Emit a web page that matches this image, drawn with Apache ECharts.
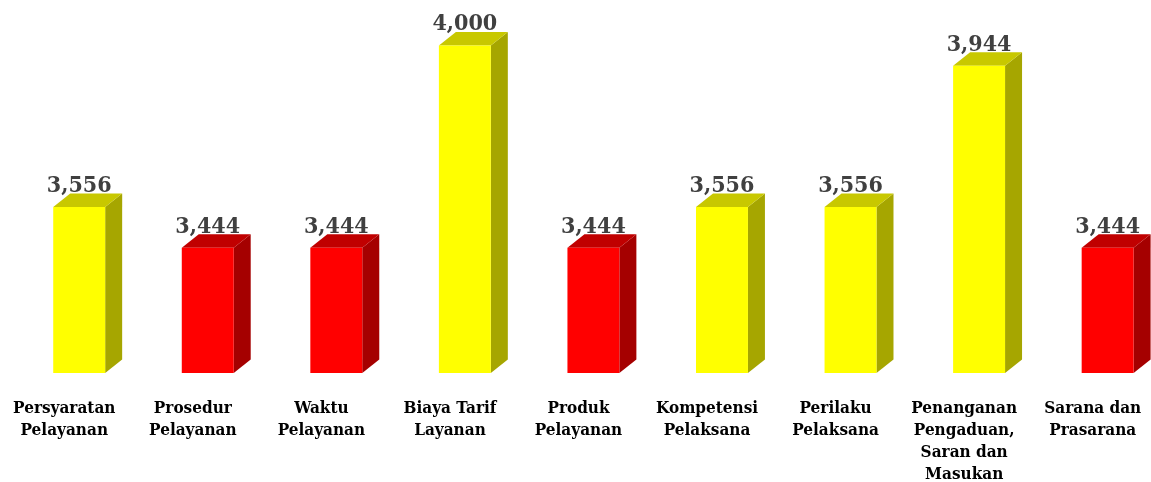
<!DOCTYPE html>
<html>
<head>
<meta charset="utf-8">
<script src="https://cdn.jsdelivr.net/npm/echarts@6/dist/echarts.min.js"></script>
<style>
  html, body { margin: 0; padding: 0; background: #fff; }
  #chart { width: 1151px; height: 482px; }
</style>
</head>
<body>
<div id="chart"></div>
<script>
var categories = [
  "Persyaratan\nPelayanan",
  "Prosedur\nPelayanan",
  "Waktu\nPelayanan",
  "Biaya Tarif\nLayanan",
  "Produk\nPelayanan",
  "Kompetensi\nPelaksana",
  "Perilaku\nPelaksana",
  "Penanganan\nPengaduan,\nSaran dan\nMasukan",
  "Sarana dan\nPrasarana"
];
var values = [3.556, 3.444, 3.444, 4.000, 3.444, 3.556, 3.556, 3.944, 3.444];
var barColors = ["yellow", "red", "red", "yellow", "red", "yellow", "yellow", "yellow", "red"];

var AXIS_MIN = 3.1;
var SERIF = "'DejaVu Serif Condensed', 'DejaVu Serif', serif";

// front / side / top shades
var palette = {
  yellow: { front: "#FFFF00", side: "#A6A600", top: "#C8C800" },
  red: { front: "#FF0000", side: "#A50000", top: "#C00000" }
};

var chart = echarts.init(document.getElementById("chart"));

function renderBar(params, api) {
  var idx = api.value(0);
  var val = api.value(1);
  var topPt = api.coord([idx, val]);
  var basePt = api.coord([idx, AXIS_MIN]);
  var band = api.size([1, 0])[0];
  var x0 = topPt[0] - band * 0.086;
  var w = band * 0.404;
  var dx = 17, dy = 13.5;
  var yt = topPt[1], yb = basePt[1];
  var c = palette[barColors[idx]];
  return {
    type: "group",
    children: [
      {
        type: "polygon",
        shape: { points: [[x0 + w, yt], [x0 + w + dx, yt - dy], [x0 + w + dx, yb - dy], [x0 + w, yb]] },
        style: { fill: c.side }
      },
      {
        type: "polygon",
        shape: { points: [[x0, yt], [x0 + dx, yt - dy], [x0 + w + dx, yt - dy], [x0 + w, yt]] },
        style: { fill: c.top }
      },
      {
        type: "rect",
        shape: { x: x0, y: yt, width: w, height: yb - yt },
        style: { fill: c.front }
      },
      {
        type: "text",
        style: {
          x: x0 + w / 2,
          y: yt - dy + 4,
          text: val.toFixed(3).replace(".", ","),
          fill: "#404040",
          fontFamily: SERIF,
          fontWeight: "bold",
          fontSize: 23,
          align: "center",
          verticalAlign: "bottom"
        }
      }
    ]
  };
}

var option = {
  animation: false,
  grid: {
    left: 0, width: 1157, top: 9, bottom: 109,
    containLabel: false,
    outerBoundsMode: "none"
  },
  xAxis: {
    type: "category",
    data: categories,
    axisLine: { show: false },
    axisTick: { show: false },
    axisLabel: {
      interval: 0,
      margin: 25,
      color: "#000",
      fontFamily: SERIF,
      fontWeight: "bold",
      fontSize: 17,
      lineHeight: 22,
      verticalAlign: "top"
    }
  },
  yAxis: {
    type: "value",
    min: AXIS_MIN,
    max: 4.1,
    show: false,
    splitLine: { show: false }
  },
  series: [
    {
      type: "custom",
      renderItem: renderBar,
      data: values.map(function (v, i) { return [i, v]; }),
      encode: { x: 0, y: 1 }
    }
  ]
};

chart.setOption(option);
</script>
</body>
</html>
